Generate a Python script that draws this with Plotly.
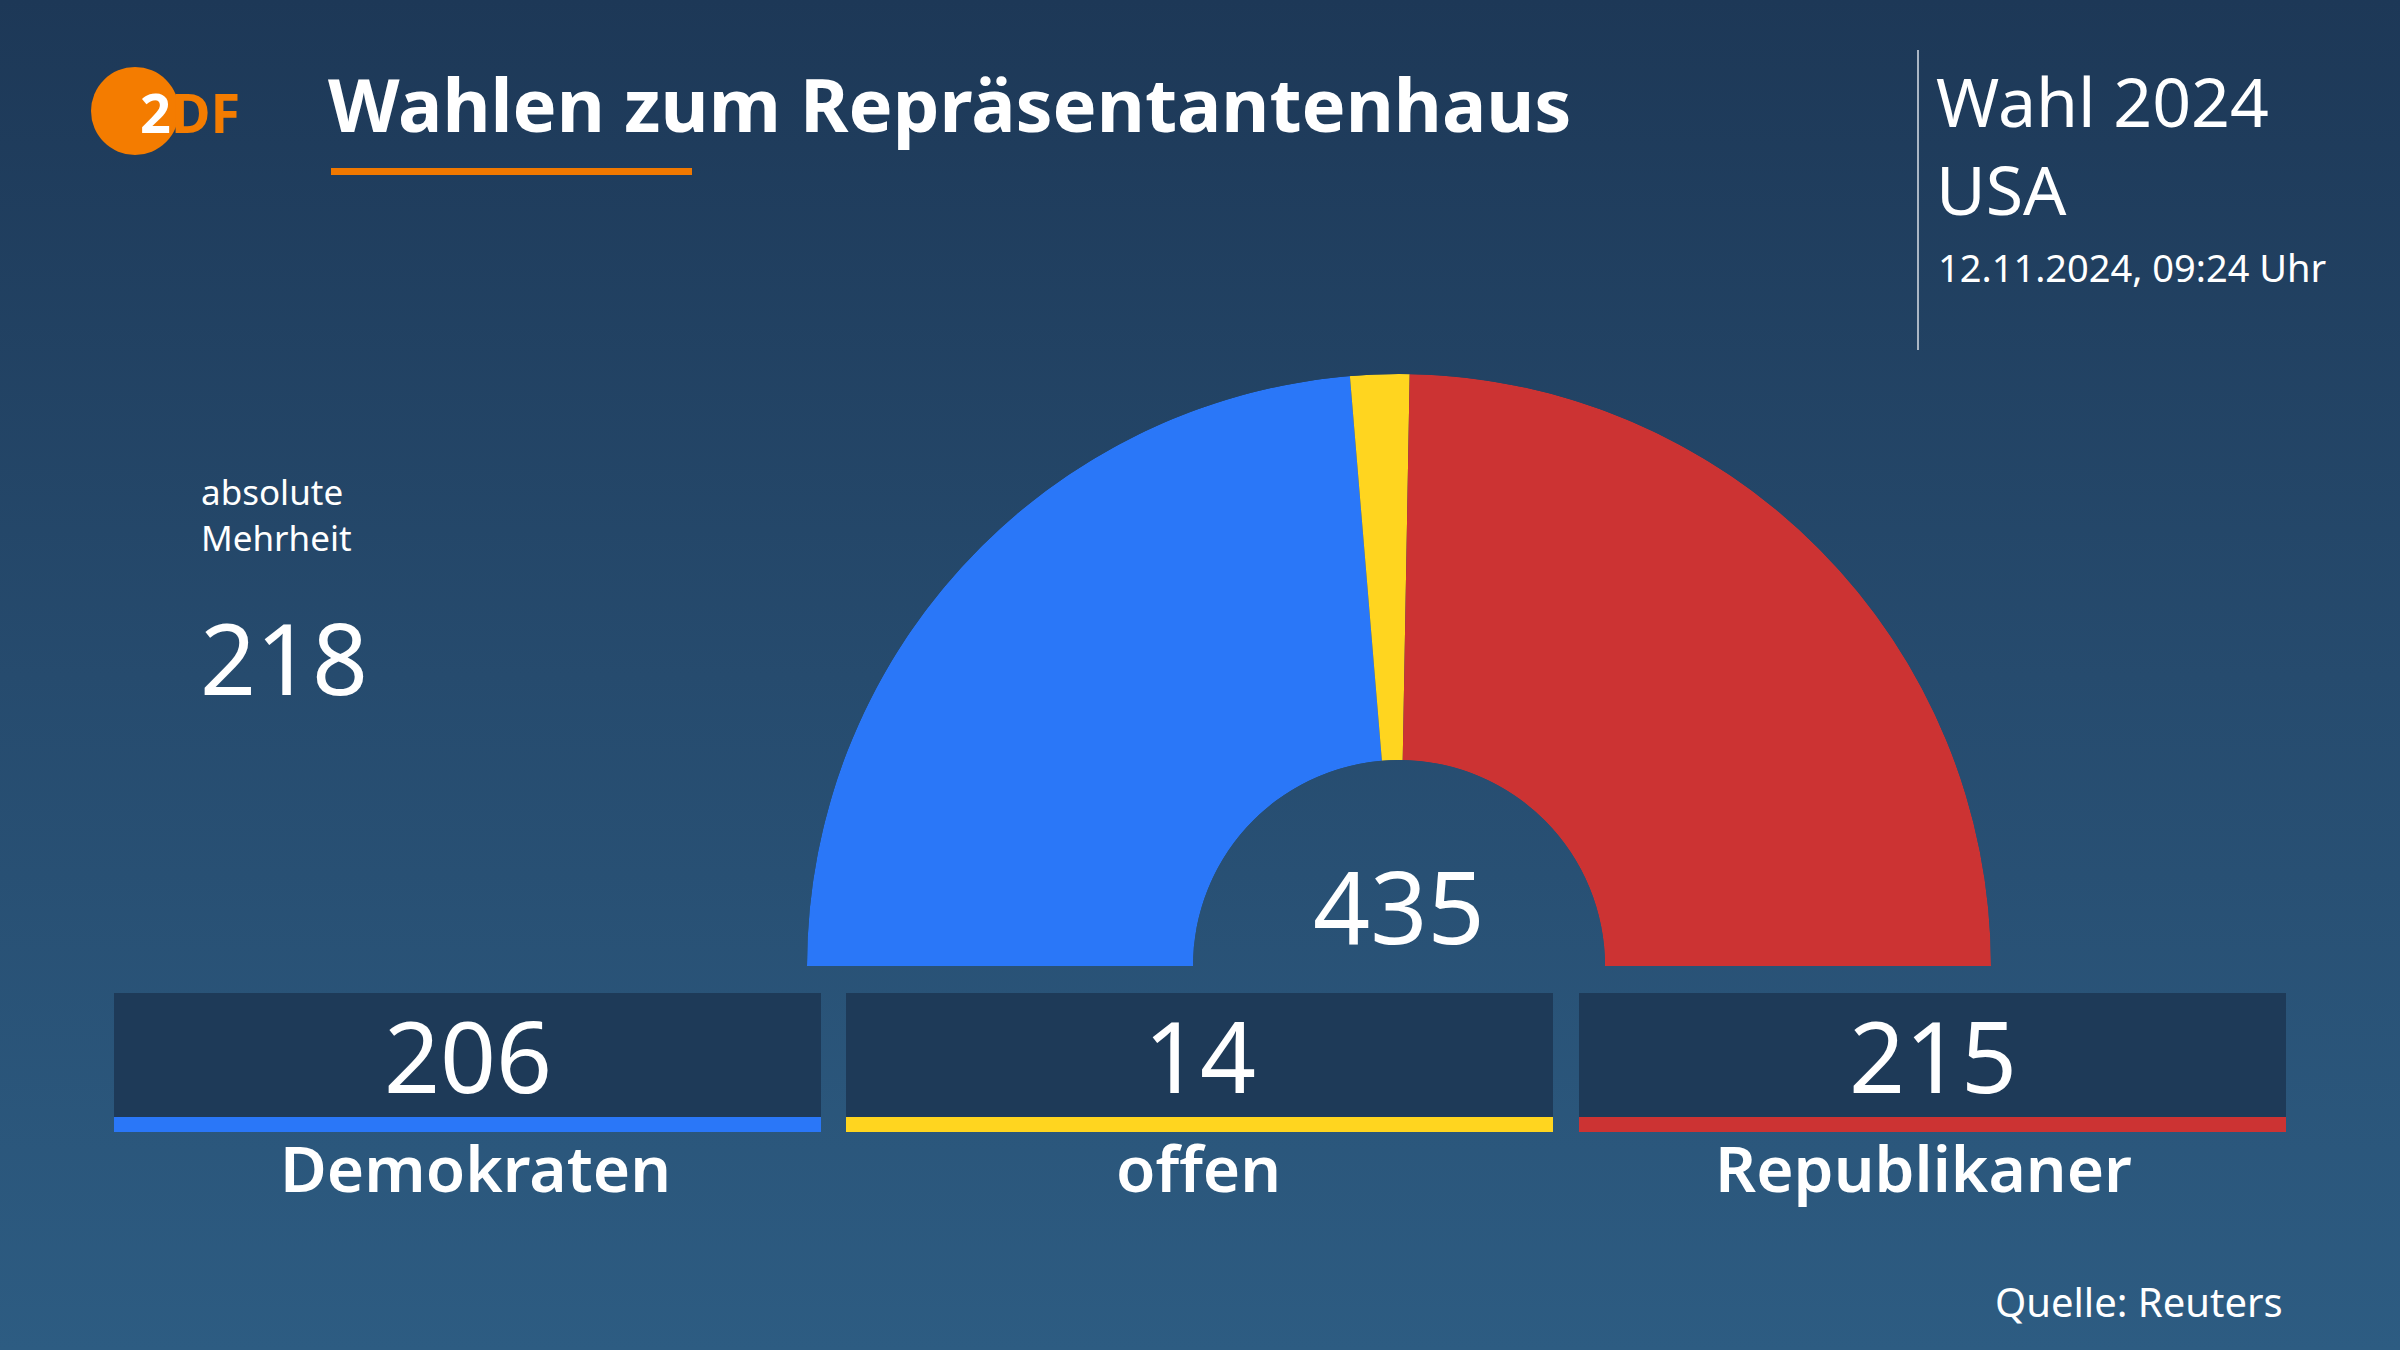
import base64
import plotly.graph_objects as go

# ---------------- data ----------------
parties = ["Demokraten", "offen", "Republikaner"]
seats = [206, 14, 215]
party_colors = ["#2a77f8", "#ffd51f", "#cc3333"]
total_seats = 435
majority = 218
title_text = "Wahlen zum Repräsentantenhaus"
election_label = ["Wahl 2024", "USA"]
timestamp = "12.11.2024, 09:24 Uhr"
majority_label = ["absolute", "Mehrheit"]
source_text = "Quelle: Reuters"

# ---------------- helpers ----------------
W, H = 2400, 1350
FONT = "Noto Sans"
label_dx = [8, -1, -9]  # small horizontal nudges for label optical centring


def px(x):
    return x / W


def py(y):
    return 1 - y / H


# angles for half-circle (degrees along 180° arc)
widths = [s / total_seats * 180 for s in seats]
centers = []
acc = 0
for w in widths:
    centers.append(acc + w / 2)
    acc += w

fig = go.Figure()

fig.add_trace(go.Barpolar(
    r=[1] * len(seats),
    theta=centers,
    width=widths,
    marker=dict(color=party_colors, line=dict(width=0)),
    hoverinfo="skip",
    showlegend=False,
))

# background gradient as inline SVG
svg = (
    '<svg xmlns="http://www.w3.org/2000/svg" width="2400" height="1350">'
    '<defs><linearGradient id="g" x1="0" y1="0" x2="0" y2="1">'
    '<stop offset="0" stop-color="#1d3857"/>'
    '<stop offset="0.5" stop-color="#264b6e"/>'
    '<stop offset="1" stop-color="#2d5c82"/>'
    '</linearGradient></defs>'
    '<rect width="2400" height="1350" fill="url(#g)"/></svg>'
)
bg_src = "data:image/svg+xml;base64," + base64.b64encode(svg.encode()).decode()

shapes = []
annotations = []


def text(x, y, s, size, xanchor="left", weight=None, color="#ffffff", align="left"):
    f = dict(family=FONT, size=size, color=color)
    if weight:
        f["weight"] = weight
    annotations.append(dict(xref="paper", yref="paper", x=px(x), y=py(y),
                            xanchor=xanchor, yanchor="middle", showarrow=False,
                            align=align, text=s, font=f))


# logo
shapes.append(dict(type="circle", xref="paper", yref="paper",
                   x0=px(91), x1=px(179), y0=py(155), y1=py(67),
                   fillcolor="#f47c00", line=dict(width=0)))
text(138, 112, "<b><span style='color:#ffffff'>2</span>DF</b>", 54, color="#f47c00")

# title + underline
text(326, 104, "<b>" + title_text + "</b>", 74)
shapes.append(dict(type="rect", xref="paper", yref="paper",
                   x0=px(331), x1=px(692), y0=py(175), y1=py(168),
                   fillcolor="#f07800", line=dict(width=0)))

# top-right block
shapes.append(dict(type="line", xref="paper", yref="paper",
                   x0=px(1918), x1=px(1918), y0=py(350), y1=py(50),
                   line=dict(color="#aab6c4", width=2)))
text(1934, 145, "<br>".join(election_label), 68)
text(1936, 267, timestamp, 38)

# majority
text(199, 514, "<br>".join(majority_label), 35)
text(198, 657, str(majority), 98)

# total in centre
text(1399, 905, str(total_seats), 100, xanchor="center")

# result boxes
box_left = [114, 846, 1579]
box_w = 707
for i, (p, s, c) in enumerate(zip(parties, seats, party_colors)):
    x0 = box_left[i]
    x1 = x0 + box_w
    xc = (x0 + x1) / 2
    shapes.append(dict(type="rect", xref="paper", yref="paper",
                       x0=px(x0), x1=px(x1), y0=py(1117), y1=py(993),
                       fillcolor="#1e3a58", line=dict(width=0), layer="below"))
    shapes.append(dict(type="rect", xref="paper", yref="paper",
                       x0=px(x0), x1=px(x1), y0=py(1132), y1=py(1117),
                       fillcolor=c, line=dict(width=0), layer="below"))
    text(xc, 1055, str(s), 98, xanchor="center", align="center")
    text(xc + label_dx[i], 1167, p, 64, xanchor="center", weight=600, align="center")

# source
text(2285, 1301, source_text, 40, xanchor="right")

fig.update_layout(
    width=W, height=H,
    margin=dict(l=0, r=0, t=0, b=0),
    paper_bgcolor="#264b6e",
    plot_bgcolor="rgba(0,0,0,0)",
    polar=dict(
        domain=dict(x=[px(807), px(1991)], y=[py(966), py(374)]),
        sector=[0, 180],
        hole=0.348,
        bgcolor="rgba(0,0,0,0)",
        radialaxis=dict(visible=False, range=[0, 1]),
        angularaxis=dict(visible=False, rotation=180, direction="clockwise"),
    ),
    images=[dict(source=bg_src, xref="paper", yref="paper", x=0, y=1,
                 sizex=1, sizey=1, sizing="stretch", layer="below",
                 xanchor="left", yanchor="top")],
    shapes=shapes,
    annotations=annotations,
    showlegend=False,
)

fig.write_html("out.html", config={"displayModeBar": False},
               post_script="document.body.style.margin='0';document.body.style.overflow='hidden';")
